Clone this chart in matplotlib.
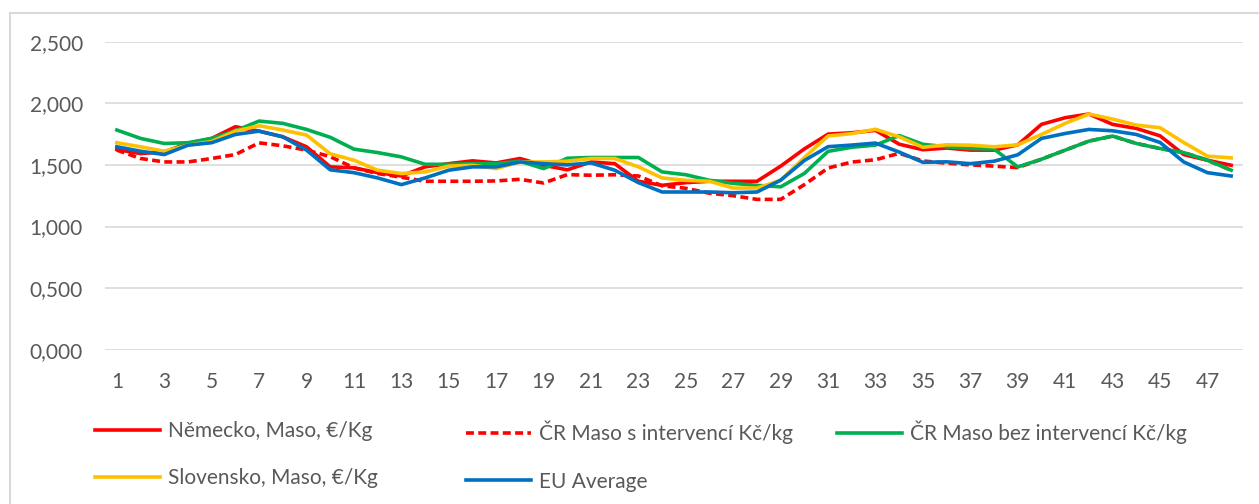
import matplotlib.pyplot as plt
from matplotlib.lines import Line2D
from matplotlib.ticker import FuncFormatter

weeks = list(range(1, 49))

nemecko = [1.625, 1.592, 1.606, 1.674, 1.715, 1.810, 1.774, 1.728, 1.647, 1.484,
           1.476, 1.437, 1.410, 1.484, 1.510, 1.533, 1.516, 1.552, 1.497, 1.460,
           1.524, 1.510, 1.367, 1.334, 1.356, 1.367, 1.367, 1.367, 1.490, 1.630,
           1.750, 1.761, 1.780, 1.668, 1.623, 1.637, 1.620, 1.620, 1.663, 1.829,
           1.883, 1.913, 1.829, 1.796, 1.736, 1.584, 1.538, 1.497]
cr_s_intervenci = [1.620, 1.552, 1.524, 1.524, 1.552, 1.584, 1.679, 1.655, 1.620, 1.567,
                   1.476, 1.430, 1.400, 1.367, 1.367, 1.367, 1.370, 1.383, 1.353, 1.421,
                   1.416, 1.420, 1.410, 1.330, 1.310, 1.270, 1.250, 1.220, 1.220, 1.340,
                   1.475, 1.523, 1.542, 1.594, 1.532, 1.514, 1.500, 1.490, 1.478, 1.546,
                   1.620, 1.693, 1.734, 1.674, 1.633, 1.600, 1.538, 1.457]
cr_bez_intervenci = [1.783, 1.715, 1.674, 1.680, 1.715, 1.777, 1.856, 1.837, 1.788, 1.724,
                     1.628, 1.600, 1.565, 1.505, 1.505, 1.510, 1.510, 1.530, 1.470, 1.554,
                     1.560, 1.560, 1.560, 1.443, 1.420, 1.375, 1.350, 1.334, 1.322, 1.431,
                     1.610, 1.643, 1.661, 1.738, 1.667, 1.647, 1.633, 1.628, 1.484, 1.546,
                     1.620, 1.693, 1.734, 1.674, 1.633, 1.600, 1.538, 1.457]
slovensko = [1.680, 1.647, 1.611, 1.660, 1.690, 1.774, 1.818, 1.783, 1.742, 1.590,
             1.538, 1.457, 1.430, 1.443, 1.490, 1.497, 1.470, 1.524, 1.524, 1.530,
             1.552, 1.552, 1.484, 1.394, 1.375, 1.367, 1.312, 1.312, 1.375, 1.560,
             1.735, 1.754, 1.789, 1.728, 1.643, 1.663, 1.660, 1.647, 1.663, 1.747,
             1.837, 1.913, 1.872, 1.823, 1.802, 1.682, 1.571, 1.557]
eu_average = [1.647, 1.611, 1.584, 1.660, 1.680, 1.747, 1.774, 1.728, 1.620, 1.460,
              1.437, 1.394, 1.340, 1.394, 1.457, 1.484, 1.484, 1.524, 1.510, 1.500,
              1.516, 1.457, 1.356, 1.280, 1.280, 1.280, 1.274, 1.280, 1.376, 1.536,
              1.648, 1.661, 1.677, 1.604, 1.521, 1.525, 1.510, 1.530, 1.582, 1.715,
              1.755, 1.788, 1.777, 1.747, 1.682, 1.524, 1.437, 1.410]

labels = ["Německo, Maso, €/Kg", "ČR Maso s intervencí Kč/kg",
          "ČR Maso bez intervencí Kč/kg", "Slovensko, Maso, €/Kg", "EU Average"]

plt.rcParams['font.family'] = ['Lato', 'DejaVu Sans']
txt = '#595959'
fs = 15

fig = plt.figure(figsize=(12.59, 5.04), dpi=100)
ax = fig.add_axes([105/1259, 1-349.7/504, (1243-105)/1259, (349.7-41.7)/504])

lw = 2.6
l1, = ax.plot(weeks, nemecko, color='#FF0000', lw=lw)
l2, = ax.plot(weeks, cr_s_intervenci, color='#FF0000', lw=lw, ls=(0, (2.2, 1.2)))
l3, = ax.plot(weeks, cr_bez_intervenci, color='#00B050', lw=lw)
l4, = ax.plot(weeks, slovensko, color='#FFC000', lw=lw)
l5, = ax.plot(weeks, eu_average, color='#0070C0', lw=lw)

ax.set_xlim(0.5, 48.5)
ax.set_ylim(0, 2.5)
ax.set_yticks([0, 0.5, 1.0, 1.5, 2.0, 2.5])
ax.yaxis.set_major_formatter(FuncFormatter(lambda v, p: ('%.3f' % v).replace('.', ',')))
ax.set_xticks(weeks[::2])
ax.grid(axis='y', color='#D9D9D9', lw=1.2)
ax.set_axisbelow(True)
for s in ax.spines.values():
    s.set_visible(False)
ax.tick_params(axis='both', length=0, labelsize=fs, colors=txt)
ax.tick_params(axis='x', pad=16)
ax.tick_params(axis='y', pad=16)

# legend laid out as 3 columns, filled row by row
columns = [([l1, l4], [labels[0], labels[3]], 95),
           ([l2, l5], [labels[1], labels[4]], 466),
           ([l3], [labels[2]], 837)]
for hs, ls, x0 in columns:
    leg = fig.legend(hs, ls, loc='upper left', bbox_to_anchor=(x0/1259, 1-421/504),
                     frameon=False, fontsize=fs, handlelength=3.1, handletextpad=0.4,
                     labelspacing=1.3, borderaxespad=0, borderpad=0)
    for t in leg.get_texts():
        t.set_color(txt)

# chart border (left and top edges are visible)
fig.add_artist(Line2D([10/1259, 10/1259], [0, 1-13/504], transform=fig.transFigure,
                      color='#D9D9D9', lw=1.5))
fig.add_artist(Line2D([10/1259, 1], [1-13/504, 1-13/504], transform=fig.transFigure,
                      color='#D9D9D9', lw=1.5))

fig.savefig('out.png', dpi=100)
